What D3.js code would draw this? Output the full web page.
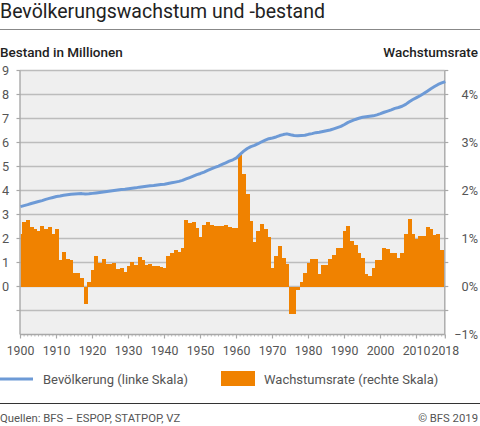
<!DOCTYPE html>
<html><head><meta charset="utf-8">
<script src="https://cdn.jsdelivr.net/npm/d3@7"></script>
<style>
html,body{margin:0;padding:0;background:#fff;}
svg{display:block;font-family:Roboto,"Noto Sans",sans-serif;}
</style></head>
<body><svg id="c" width="480" height="426"></svg>
<script>
const title = "Bevölkerungswachstum und -bestand";
const leftAxisTitle = "Bestand in Millionen";
const rightAxisTitle = "Wachstumsrate";
const legendLabels = ["Bevölkerung (linke Skala)", "Wachstumsrate (rechte Skala)"];
const sourceText = "Quellen: BFS – ESPOP, STATPOP, VZ";
const copyrightText = "© BFS 2019";

const firstYear = 1900, lastYear = 2018;
const years = d3.range(firstYear, lastYear + 1);
const xTickYears = [1900,1910,1920,1930,1940,1950,1960,1970,1980,1990,2000,2010,2018];
const leftTicks = [0,1,2,3,4,5,6,7,8,9];
const gridValues = [-1,0,1,2,3,4,5,6,7,8,9];
const rightTicks = [-1,0,1,2,3,4];

// Population in millions, 1900–2018
const population = [
3.33,3.37,3.41,3.46,3.50,3.54,3.58,3.63,3.67,3.71,
3.75,3.77,3.80,3.82,3.84,3.85,3.86,3.87,3.85,3.86,
3.88,3.90,3.92,3.94,3.96,3.98,4.00,4.02,4.04,4.05,
4.07,4.09,4.11,4.14,4.16,4.18,4.20,4.21,4.23,4.25,
4.26,4.29,4.32,4.35,4.38,4.42,4.48,4.54,4.60,4.66,
4.71,4.77,4.84,4.90,4.96,5.02,5.09,5.15,5.22,5.28,
5.36,5.51,5.64,5.75,5.83,5.88,5.95,6.03,6.10,6.16,
6.19,6.23,6.29,6.33,6.36,6.32,6.29,6.28,6.29,6.30,
6.34,6.37,6.41,6.43,6.46,6.49,6.52,6.57,6.62,6.67,
6.75,6.84,6.90,6.96,7.01,7.05,7.07,7.09,7.11,7.15,
7.20,7.26,7.31,7.36,7.42,7.46,7.51,7.59,7.70,7.79,
7.87,7.95,8.04,8.14,8.24,8.33,8.42,8.48,8.54
];

// Growth rate in %, 1900–2018
const growthRate = [
1.10,1.34,1.39,1.24,1.20,1.15,1.26,1.19,1.24,1.10,
1.20,0.56,0.71,0.58,0.56,0.28,0.28,0.17,-0.36,0.10,
0.35,0.64,0.50,0.58,0.46,0.46,0.49,0.37,0.39,0.31,
0.42,0.52,0.45,0.62,0.56,0.45,0.47,0.42,0.42,0.40,
0.38,0.64,0.69,0.77,0.72,0.81,1.39,1.32,1.35,1.22,
1.04,1.29,1.34,1.28,1.27,1.26,1.26,1.28,1.25,1.22,
1.21,2.73,2.35,1.93,1.37,0.93,1.15,1.31,1.20,1.04,
0.39,0.64,0.85,0.60,0.46,-0.57,-0.58,-0.08,0.10,0.28,
0.49,0.58,0.57,0.27,0.44,0.44,0.58,0.66,0.80,0.80,
1.15,1.26,0.94,0.87,0.70,0.60,0.26,0.21,0.38,0.56,
0.55,0.80,0.78,0.69,0.69,0.59,0.69,1.09,1.40,1.10,
1.00,1.06,1.05,1.24,1.19,1.08,1.10,0.77,0.70
];

const colors = {line:"#6d9ad6", bar:"#f08200", grid:"#bcbcbc", plotBg:"#efefef", axis:"#a8a8a8", text:"#555", title:"#222"};

const svg = d3.select("#c");
const plot = {left:20, right:444.8, top:70.5, bottom:334.5};

const x = d3.scaleLinear().domain([firstYear, lastYear]).range([20.5, 445.3]);
const yL = d3.scaleLinear().domain([-2, 9]).range([plot.bottom, plot.top]);
const yR = d3.scaleLinear().domain([-1, 4.5]).range([plot.bottom, plot.top]);

// Title
svg.append("text").attr("x",0).attr("y",18).attr("font-size",19.5).attr("fill",colors.title).text(title);
svg.append("line").attr("x1",0).attr("x2",480).attr("y1",29.5).attr("y2",29.5).attr("stroke","#888").attr("stroke-width",1.2);

svg.append("text").attr("x",0).attr("y",56.5).attr("font-size",13.5).attr("font-weight",500).attr("fill",colors.title).text(leftAxisTitle);
svg.append("text").attr("x",478).attr("y",56.5).attr("text-anchor","end").attr("font-size",13.5).attr("font-weight",500).attr("fill",colors.title).text(rightAxisTitle);

// plot bg
svg.append("rect").attr("x",plot.left).attr("y",plot.top).attr("width",plot.right-plot.left).attr("height",plot.bottom-plot.top).attr("fill",colors.plotBg);

// grid
svg.append("g").selectAll("line").data(gridValues).join("line")
  .attr("x1",plot.left).attr("x2",plot.right)
  .attr("y1",d=>yL(d)).attr("y2",d=>yL(d))
  .attr("stroke",colors.grid).attr("stroke-width",1.4);

// clip
svg.append("clipPath").attr("id","clip").append("rect")
  .attr("x",plot.left+0.7).attr("y",plot.top).attr("width",plot.right-plot.left-1.4).attr("height",plot.bottom-plot.top);

const bw = x(firstYear+1)-x(firstYear);
svg.append("g").attr("clip-path","url(#clip)").attr("shape-rendering","crispEdges")
  .selectAll("rect").data(years).join("rect")
  .attr("x",(d)=>x(d-0.5))
  .attr("width",bw+0.5)
  .attr("y",(d,i)=>Math.min(yR(growthRate[i]), yR(0)))
  .attr("height",(d,i)=>Math.abs(yR(growthRate[i])-yR(0)))
  .attr("fill",colors.bar);

// axes lines
const axisG = svg.append("g");
axisG.append("line").attr("x1",plot.left).attr("x2",plot.left).attr("y1",plot.top).attr("y2",plot.bottom).attr("stroke",colors.axis).attr("stroke-width",1.4);
axisG.append("line").attr("x1",plot.right).attr("x2",plot.right).attr("y1",plot.top).attr("y2",plot.bottom).attr("stroke",colors.axis).attr("stroke-width",1.4);
axisG.append("line").attr("x1",plot.left).attr("x2",plot.right).attr("y1",plot.bottom).attr("y2",plot.bottom).attr("stroke",colors.axis).attr("stroke-width",1.4);

// left ticks
const gl = svg.append("g");
gl.selectAll("line").data(gridValues).join("line")
  .attr("x1",plot.left-3.5).attr("x2",plot.left).attr("y1",d=>yL(d)).attr("y2",d=>yL(d))
  .attr("stroke",colors.axis).attr("stroke-width",1.2);
gl.selectAll("text").data(leftTicks).join("text")
  .attr("x",2).attr("y",d=>yL(d)+4.5).attr("font-size",12.7).attr("fill",colors.text).text(d=>d);

// right ticks
const gr = svg.append("g");
gr.selectAll("line").data(gridValues).join("line")
  .attr("x1",plot.right).attr("x2",plot.right+3.5).attr("y1",d=>yL(d)).attr("y2",d=>yL(d))
  .attr("stroke",colors.axis).attr("stroke-width",1.2);
gr.selectAll("text").data(rightTicks).join("text")
  .attr("x",478).attr("text-anchor","end").attr("y",d=>yR(d)+4.5).attr("font-size",12.7).attr("fill",colors.text)
  .text(d=>(d<0?"\u2212"+Math.abs(d):d)+"%");

// x ticks
const gx = svg.append("g");
gx.selectAll("line.minor").data(years).join("line").attr("class","minor")
  .attr("x1",d=>x(d)).attr("x2",d=>x(d)).attr("y1",plot.bottom).attr("y2",plot.bottom+2)
  .attr("stroke",colors.axis).attr("stroke-width",0.8);
gx.selectAll("line.major").data(xTickYears).join("line").attr("class","major")
  .attr("x1",d=>x(d)).attr("x2",d=>x(d)).attr("y1",plot.bottom).attr("y2",plot.bottom+4)
  .attr("stroke",colors.axis).attr("stroke-width",1.2);
gx.selectAll("text").data(xTickYears).join("text")
  .attr("x",d=>x(d)).attr("y",355).attr("text-anchor","middle").attr("font-size",12.3).attr("fill",colors.text).text(d=>d);

// line
svg.append("path").datum(years)
  .attr("d", d3.line().x(d=>x(d)).y((d,i)=>yL(population[i])))
  .attr("fill","none").attr("stroke",colors.line).attr("stroke-width",3).attr("stroke-linejoin","round");

// legend
svg.append("line").attr("x1",0).attr("x2",33).attr("y1",379).attr("y2",379).attr("stroke",colors.line).attr("stroke-width",3);
svg.append("text").attr("x",43).attr("y",383.5).attr("font-size",13).attr("fill",colors.text).text(legendLabels[0]);
svg.append("rect").attr("x",221).attr("y",371).attr("width",34).attr("height",15).attr("fill",colors.bar);
svg.append("text").attr("x",264).attr("y",383.5).attr("font-size",13).attr("fill",colors.text).text(legendLabels[1]);

// footer
svg.append("line").attr("x1",0).attr("x2",480).attr("y1",403.5).attr("y2",403.5).attr("stroke","#333").attr("stroke-width",1);
svg.append("text").attr("x",0).attr("y",422).attr("font-size",11.3).attr("fill",colors.text).text(sourceText);
svg.append("text").attr("x",478).attr("y",422).attr("text-anchor","end").attr("font-size",11.3).attr("fill",colors.text).text(copyrightText);
</script></body></html>
